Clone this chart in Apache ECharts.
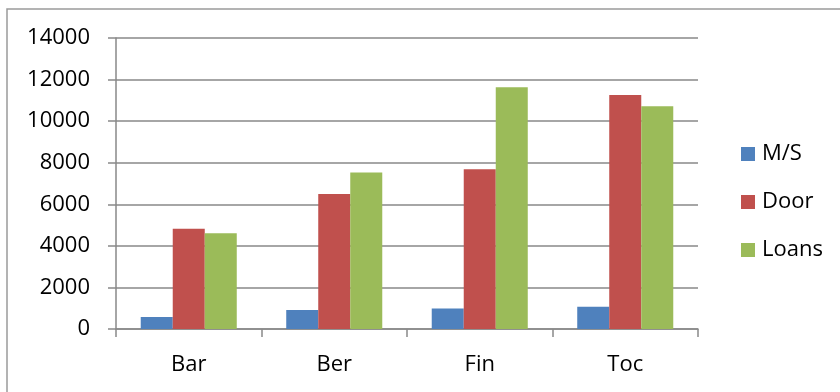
<!DOCTYPE html>
<html>
<head>
<meta charset="utf-8">
<script src="https://cdn.jsdelivr.net/npm/echarts@6/dist/echarts.min.js"></script>
<style>
  html, body { margin: 0; padding: 0; background: #fff; }
  #chart { width: 840px; height: 392px; }
</style>
</head>
<body>
<div id="chart"></div>
<script>
// Categories and the three series shown as grouped columns
const categories = ['Bar', 'Ber', 'Fin', 'Toc'];
const msValues = [580, 910, 990, 1070];
const doorValues = [4820, 6500, 7690, 11260];
const loansValues = [4610, 7530, 11630, 10720];

const FONT = '"Open Sans", "Liberation Sans", sans-serif';
const AXIS_GRAY = '#898989';
const FONT_SIZE = 22;

const chart = echarts.init(document.getElementById('chart'));

function barSeries(name, data, color) {
  return {
    name: name,
    type: 'bar',
    data: data,
    barGap: '0%',
    barCategoryGap: '34%',
    itemStyle: { color: color },
    emphasis: { disabled: true }
  };
}

chart.setOption({
  animation: false,
  textStyle: { fontFamily: FONT },
  graphic: [{
    type: 'rect',
    shape: { x: 7, y: 9, width: 900, height: 500 },
    style: { fill: 'none', stroke: '#9a9a9a', lineWidth: 1.5 },
    silent: true
  }],
  grid: { left: 116, right: 142, top: 38, bottom: 63 },
  legend: {
    orient: 'vertical',
    left: 741,
    top: 142,
    padding: 0,
    itemWidth: 14,
    itemHeight: 14,
    itemGap: 24,
    icon: 'rect',
    textStyle: { fontFamily: FONT, fontSize: FONT_SIZE, color: '#000', lineHeight: 24, padding: [0, 0, 0, 2] },
    data: ['M/S', 'Door', 'Loans']
  },
  xAxis: {
    type: 'category',
    data: categories,
    axisLine: { lineStyle: { color: AXIS_GRAY, width: 1.5 } },
    axisTick: { show: true, length: 8, lineStyle: { color: AXIS_GRAY, width: 1.5 } },
    axisLabel: { fontFamily: FONT, fontSize: FONT_SIZE, color: '#000', margin: 25 }
  },
  yAxis: {
    type: 'value',
    min: 0,
    max: 14000,
    interval: 2000,
    axisLine: { show: true, lineStyle: { color: AXIS_GRAY, width: 1.5 } },
    axisTick: { show: true, length: 8, lineStyle: { color: AXIS_GRAY, width: 1.5 } },
    axisLabel: { fontFamily: FONT, fontSize: FONT_SIZE, color: '#000', margin: 26, formatter: (v) => String(v) },
    splitLine: { lineStyle: { color: AXIS_GRAY, width: 1.5 } }
  },
  series: [
    barSeries('M/S', msValues, '#4F81BD'),
    barSeries('Door', doorValues, '#C0504D'),
    barSeries('Loans', loansValues, '#9BBB59')
  ]
});
</script>
</body>
</html>
